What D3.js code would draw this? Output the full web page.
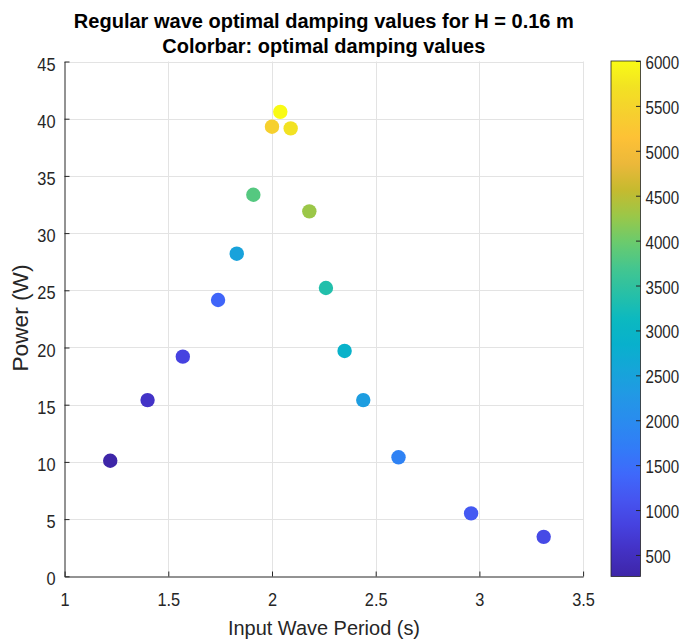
<!DOCTYPE html>
<html>
<head>
<meta charset="utf-8">
<script src="https://cdn.jsdelivr.net/npm/d3@7"></script>
<style>
  html, body { margin: 0; padding: 0; background: #fff; }
  svg { display: block; font-family: "Liberation Sans", Arial, Helvetica, sans-serif; }
</style>
</head>
<body>
<svg id="chart" width="686" height="641"></svg>
<script>
// ---- data ----
const period  = [1.22, 1.40, 1.57, 1.74, 1.83, 1.91, 2.00, 2.04, 2.09, 2.18, 2.26, 2.35, 2.44, 2.61, 2.96, 3.31];
const power   = [10.1, 15.4, 19.2, 24.15, 28.2, 33.35, 39.3, 40.6, 39.15, 31.9, 25.2, 19.7, 15.4, 10.4, 5.5, 3.45];
const damping = [260, 580, 830, 1350, 2500, 3820, 5430, 6000, 5710, 4280, 3360, 2900, 2380, 1810, 1180, 950];
const xTicks  = [1, 1.5, 2, 2.5, 3, 3.5];
const yTicks  = [0, 5, 10, 15, 20, 25, 30, 35, 40, 45];
const cbTicks = [500, 1000, 1500, 2000, 2500, 3000, 3500, 4000, 4500, 5000, 5500, 6000];
const titleLines = ["Regular wave optimal damping values for H = 0.16 m", "Colorbar: optimal damping values"];
const xLabel = "Input Wave Period (s)";
const yLabel = "Power (W)";

// parula-like colormap stops (style)
const parulaStops = ["#3e26a8","#4331c4","#4642e0","#4655f0","#3e69fb","#327cf7","#2a8bef","#2298e5",
  "#16a5d9","#08b0cc","#0cb9c0","#28c0a6","#45c68e","#6ccb6c","#9bc748","#c6ba2f","#ebb83a",
  "#fdc136","#f6d02e","#f2e223","#f9fb15"];
const parula = d3.piecewise(d3.interpolateRgb, parulaStops);

const svg = d3.select("#chart");
const L = 64.6, R = 583.1, T = 61.5, B = 576.3;
const x = d3.scaleLinear().domain([1, 3.5]).range([L, R]);
const y = d3.scaleLinear().domain([0, 45]).range([B, T]);
const cmin = d3.min(damping), cmax = d3.max(damping);
const color = d3.scaleSequential(parula).domain([cmin, cmax]);
const axisColor = "#262626";
const tickFont = 19;

function condense(factor) {
  return sel => sel.each(function () {
    const w = this.getComputedTextLength();
    d3.select(this).attr("textLength", w * factor).attr("lengthAdjust", "spacingAndGlyphs");
  });
}

// grid
const grid = svg.append("g");
grid.selectAll("line.vx").data(xTicks.slice(1)).join("line")
  .attr("x1", d => Math.round(x(d)) + 0.5).attr("x2", d => Math.round(x(d)) + 0.5)
  .attr("y1", T).attr("y2", B).attr("stroke", "#e3e3e3").attr("stroke-width", 1);
grid.selectAll("line.hy").data(yTicks.slice(1)).join("line")
  .attr("y1", d => Math.round(y(d)) + 0.5).attr("y2", d => Math.round(y(d)) + 0.5)
  .attr("x1", L).attr("x2", R).attr("stroke", "#e3e3e3").attr("stroke-width", 1);

// axes (inward ticks, no box)
const xAxis = d3.axisBottom(x).tickValues(xTicks).tickSizeInner(-5).tickSizeOuter(0).tickPadding(0)
  .tickFormat(d3.format("~g"));
const gx = svg.append("g").attr("transform", `translate(0,${Math.round(B) + 0.5})`).call(xAxis);
gx.select(".domain").attr("stroke", axisColor);
gx.selectAll(".tick line").attr("stroke", axisColor);
gx.selectAll(".tick text").attr("fill", axisColor).attr("font-size", tickFont)
  .attr("font-family", "Liberation Sans, Arial, sans-serif").attr("y", 29).attr("dy", 0).call(condense(0.86));

const yAxis = d3.axisLeft(y).tickValues(yTicks).tickSizeInner(-5).tickSizeOuter(0).tickPadding(0);
const gy = svg.append("g").attr("transform", `translate(${Math.round(L) - 0.5},0)`).call(yAxis);
gy.select(".domain").attr("stroke", axisColor);
gy.selectAll(".tick line").attr("stroke", axisColor);
gy.selectAll(".tick text").attr("fill", axisColor).attr("font-size", tickFont)
  .attr("font-family", "Liberation Sans, Arial, sans-serif").attr("x", -9).attr("dy", "0.45em").call(condense(0.86));

// points
svg.append("g").selectAll("circle").data(period).join("circle")
  .attr("cx", (d, i) => x(d)).attr("cy", (d, i) => y(power[i])).attr("r", 7.2)
  .attr("fill", (d, i) => color(damping[i]));

// colorbar
const cbL = 611, cbR = 640.5;
const cb = d3.scaleLinear().domain([cmin, cmax]).range([576.5, 61]);
const defs = svg.append("defs");
const grad = defs.append("linearGradient").attr("id", "cbgrad")
  .attr("x1", 0).attr("y1", 1).attr("x2", 0).attr("y2", 0);
d3.range(0, 101).forEach(k => {
  grad.append("stop").attr("offset", (k / 100)).attr("stop-color", parula(k / 100));
});
svg.append("rect").attr("x", cbL).attr("y", cb(cmax)).attr("width", cbR - cbL)
  .attr("height", cb(cmin) - cb(cmax)).attr("fill", "url(#cbgrad)")
  .attr("stroke", axisColor).attr("stroke-width", 0.8);
const cbAxis = d3.axisRight(cb).tickValues(cbTicks).tickSizeInner(-4.5).tickSizeOuter(0).tickPadding(0)
  .tickFormat(d3.format("d"));
const gcb = svg.append("g").attr("transform", `translate(${cbR},0)`).call(cbAxis);
gcb.select(".domain").remove();
gcb.selectAll(".tick line").attr("stroke", axisColor);
gcb.selectAll(".tick text").attr("fill", axisColor).attr("font-size", 18)
  .attr("font-family", "Liberation Sans, Arial, sans-serif").attr("x", 5).attr("dy", "0.42em").call(condense(0.84));

// titles
const cx = (L + R) / 2;
const titleW = [500, 323];
const titleY = [28, 53];
svg.append("g").selectAll("text").data(titleLines).join("text")
  .attr("x", cx).attr("y", (d, i) => titleY[i]).attr("text-anchor", "middle")
  .attr("font-size", 20).attr("font-weight", "bold").attr("fill", "#000")
  .attr("textLength", (d, i) => titleW[i]).attr("lengthAdjust", "spacingAndGlyphs")
  .text(d => d);

// axis labels
svg.append("text").attr("x", 324).attr("y", 635).attr("text-anchor", "middle")
  .attr("font-size", 20.5).attr("fill", axisColor)
  .attr("textLength", 192).attr("lengthAdjust", "spacingAndGlyphs").text(xLabel);
svg.append("text").attr("transform", "translate(28,318) rotate(-90)").attr("text-anchor", "middle")
  .attr("font-size", 21.5).attr("fill", axisColor)
  .attr("textLength", 107).attr("lengthAdjust", "spacingAndGlyphs").text(yLabel);
</script>
</body>
</html>
